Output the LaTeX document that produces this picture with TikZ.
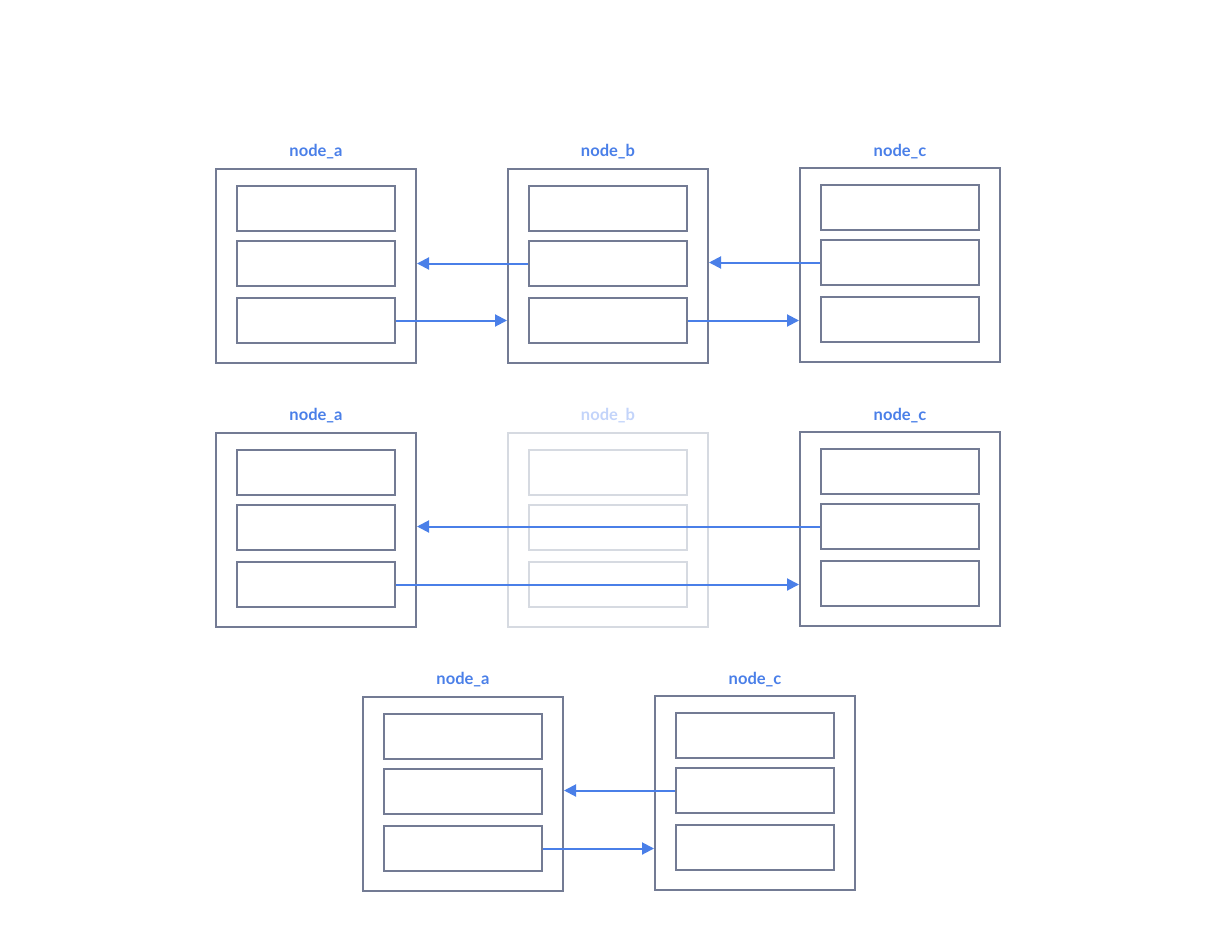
\documentclass[tikz,border=0pt]{standalone}
\usepackage{fontspec}
\setmainfont{Lato}
\usetikzlibrary{arrows.meta,calc}
\definecolor{boxgray}{HTML}{737B94}
\definecolor{fadegray}{HTML}{D6DAE1}
\definecolor{linkblue}{HTML}{4A7FE8}
\definecolor{fadeblue}{HTML}{C3D4FA}
\tikzset{
  outerbox/.style={draw=boxgray, line width=2pt, minimum width=200pt, minimum height=194pt, inner sep=0pt},
  innerbox/.style={draw=boxgray, line width=2pt, minimum width=158pt, minimum height=45pt, inner sep=0pt},
  fadeouter/.style={outerbox, draw=fadegray},
  fadeinner/.style={innerbox, draw=fadegray},
  lbl/.style={font=\bfseries\fontsize{16.5}{18}\selectfont, text=linkblue, inner sep=0pt},
  fadelbl/.style={lbl, text=fadeblue},
  link/.style={draw=linkblue, line width=2pt, -{Triangle[length=12pt,width=12pt]}},
}
\newcommand\mkgroup[4]{%
  % #1 name, #2 position of top centre, #3 outer style, #4 inner style
  \node[#3, anchor=north] (#1) at #2 {};
  \node[#4] (#1i1) at ($(#1.north)+(0,40.5)$) {};
  \node[#4] (#1i2) at ($(#1.north)+(0,95.5)$) {};
  \node[#4] (#1i3) at ($(#1.north)+(0,152.5)$) {};
}
\begin{document}
\begin{tikzpicture}[x=1pt,y=-1pt]
\useasboundingbox (0,0) rectangle (1214,941);
% row 1
\mkgroup{a1}{(316,168)}{outerbox}{innerbox}
\mkgroup{b1}{(608,168)}{outerbox}{innerbox}
\mkgroup{c1}{(900,167)}{outerbox}{innerbox}
\node[lbl] (la1) at (316,151.5) {node\_a};
\node[lbl] (lb1) at (608,151.5) {node\_b};
\node[lbl] (lc1) at (900,151.5) {node\_c};
\draw[link] (b1i2.west) -- (b1i2.west -| a1.east);
\draw[link] (a1i3.east) -- (a1i3.east -| b1.west);
\draw[link] (c1i2.west) -- (c1i2.west -| b1.east);
\draw[link] (b1i3.east) -- (b1i3.east -| c1.west);
% row 2
\mkgroup{b2}{(608,432)}{fadeouter}{fadeinner}
\mkgroup{a2}{(316,432)}{outerbox}{innerbox}
\mkgroup{c2}{(900,431)}{outerbox}{innerbox}
\node[lbl] (la2) at (316,415.5) {node\_a};
\node[fadelbl] (lb2) at (608,415.5) {node\_b};
\node[lbl] (lc2) at (900,415.5) {node\_c};
\draw[link] (c2i2.west) -- (c2i2.west -| a2.east);
\draw[link] (a2i3.east) -- (a2i3.east -| c2.west);
% row 3
\mkgroup{a3}{(463,696)}{outerbox}{innerbox}
\mkgroup{c3}{(755,695)}{outerbox}{innerbox}
\node[lbl] (la3) at (463,679.5) {node\_a};
\node[lbl] (lc3) at (755,679.5) {node\_c};
\draw[link] (c3i2.west) -- (c3i2.west -| a3.east);
\draw[link] (a3i3.east) -- (a3i3.east -| c3.west);
\end{tikzpicture}
\end{document}
